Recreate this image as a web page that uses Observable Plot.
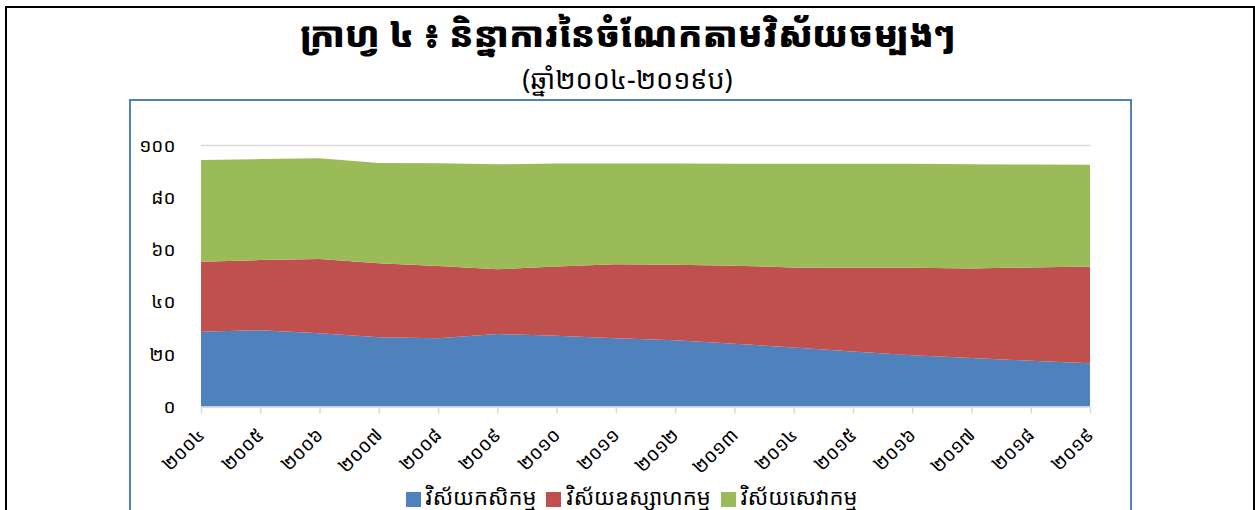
<!DOCTYPE html>
<html>
<head>
<meta charset="utf-8">
<script src="https://cdn.jsdelivr.net/npm/d3@7"></script>
<script src="https://cdn.jsdelivr.net/npm/@observablehq/plot@0.6"></script>
<style>
  body { margin: 0; background: #fff; }
  #page { position: relative; width: 1255px; height: 510px; overflow: hidden;
    font-family: "Noto Sans Khmer", "Khmer OS System", "Khmer OS", "Noto Sans", sans-serif; color: #000; }
  #outer { position: absolute; left: 5px; top: 6px; width: 1246px; height: 530px; border: 2px solid #000; }
  #inner { position: absolute; left: 129px; top: 99px; width: 999px; height: 440px; border: 2px solid #4f81bd; }
  #title { position: absolute; left: 0; top: 8px; width: 1255px; text-align: center; font-size: 35px; font-weight: 900; line-height: 52px; }
  #subtitle { position: absolute; left: 0; top: 61px; width: 1255px; text-align: center; font-size: 27px; line-height: 36px; }
  #chart { position: absolute; left: 130px; top: 101px; }
  #legend { position: absolute; left: 4px; top: 481px; width: 1255px; display: flex; justify-content: center; align-items: center; font-size: 22px; line-height: 30px; }
  .item { display: flex; align-items: center; margin: 0 5px; }
  .sw { width: 15px; height: 15px; margin-right: 5px; margin-top: 6px; }
</style>
</head>
<body>
<div id="page">
  <div id="outer"></div>
  <div id="inner"></div>
  <div id="title"></div>
  <div id="subtitle"></div>
  <div id="chart"></div>
  <div id="legend"></div>
</div>
<script>
const titleText = "ក្រាហ្វ ៤ ៖ និន្នាការនៃចំណែកតាមវិស័យចម្បងៗ";
const subtitleText = "(ឆ្នាំ២០០៤-២០១៩ប)";

const years = [2004, 2005, 2006, 2007, 2008, 2009, 2010, 2011, 2012, 2013, 2014, 2015, 2016, 2017, 2018, 2019];
const yearLabels = ["២០០៤", "២០០៥", "២០០៦", "២០០៧", "២០០៨", "២០០៩", "២០១០", "២០១១", "២០១២", "២០១៣", "២០១៤", "២០១៥", "២០១៦", "២០១៧", "២០១៨", "២០១៩"];
const yTicks = [0, 20, 40, 60, 80, 100];
const yTickLabels = ["០", "២០", "៤០", "៦០", "៨០", "១០០"];

const sectors = ["វិស័យកសិកម្ម", "វិស័យឧស្សាហកម្ម", "វិស័យសេវាកម្ម"];
const colors = ["#4f81bd", "#c0504d", "#9bbb59"];

const agriculture = [28.6, 29.2, 28.0, 26.5, 26.1, 27.7, 27.1, 26.1, 25.3, 24.0, 22.6, 21.0, 19.6, 18.5, 17.5, 16.5];
const industry    = [26.8, 26.8, 28.4, 28.3, 27.6, 24.8, 26.4, 28.3, 28.9, 29.8, 30.6, 32.1, 33.5, 34.3, 35.7, 37.0];
const services    = [38.9, 38.6, 38.5, 38.3, 39.3, 40.1, 39.4, 38.5, 38.7, 39.0, 39.6, 39.7, 39.7, 39.8, 39.3, 38.9];

const series = [agriculture, industry, services];
const table = [];
sectors.forEach((s, i) => years.forEach((y, j) => table.push({ year: y, sector: s, value: series[i][j] })));

document.getElementById("title").textContent = titleText;
document.getElementById("subtitle").textContent = subtitleText;

const fontFamily = '"Noto Sans Khmer", "Khmer OS System", "Khmer OS", "Noto Sans", sans-serif';

const chart = Plot.plot({
  width: 1000,
  height: 379,
  marginLeft: 71,
  marginRight: 40,
  marginTop: 44,
  marginBottom: 73.5,
  style: { fontFamily, fontSize: "18px", color: "#000", background: "transparent", overflow: "visible" },
  x: { domain: [2004, 2019], label: null },
  y: { domain: [0, 100], label: null },
  color: { domain: sectors, range: colors },
  marks: [
    Plot.ruleY(yTicks, { stroke: "#d9d9d9", strokeWidth: 1.5 }),
    Plot.areaY(table, { x: "year", y: "value", fill: "sector", order: sectors }),
    Plot.ruleY([0], { stroke: "#d9d9d9", strokeWidth: 1.5 }),
    Plot.axisY({ ticks: yTicks, tickFormat: d => yTickLabels[yTicks.indexOf(d)], tickSize: 0, tickPadding: 26, fontSize: 19, label: null }),
    Plot.axisX({ ticks: years, tickFormat: d => yearLabels[years.indexOf(d)], tickRotate: -45, tickSize: 7, tickPadding: 18, fontSize: 19, stroke: "#d9d9d9", strokeWidth: 1.5, fill: "#000", label: null })
  ]
});
document.getElementById("chart").appendChild(chart);

const legend = document.getElementById("legend");
sectors.forEach((s, i) => {
  const item = document.createElement("div");
  item.className = "item";
  const sw = document.createElement("div");
  sw.className = "sw";
  sw.style.background = colors[i];
  const t = document.createElement("span");
  t.textContent = s;
  item.appendChild(sw);
  item.appendChild(t);
  legend.appendChild(item);
});
</script>
</body>
</html>
